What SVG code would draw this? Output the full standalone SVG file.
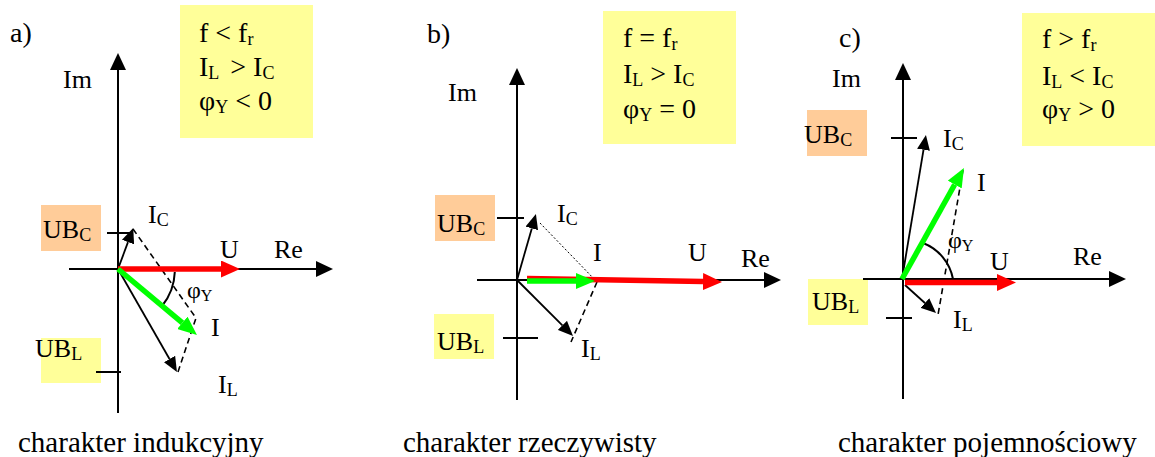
<svg xmlns="http://www.w3.org/2000/svg" width="1155" height="457" viewBox="0 0 1155 457">
<style>
text{font-family:"Liberation Serif","Times New Roman",serif;fill:#000}
.box{font-size:28px}
.lbl{font-size:26px}
.cap{font-size:29px}
.phi{font-size:24px}
.s{font-size:18px}
.sp{font-size:16px}
.ax{stroke:#000;stroke-width:2;fill:none}
.vec{stroke:#000;stroke-width:1.8;fill:none}
.tick{stroke:#000;stroke-width:2}
.dash{stroke:#000;stroke-width:1.6;stroke-dasharray:6 4;fill:none}
.dot{stroke:#000;stroke-width:1;stroke-dasharray:2 2;fill:none}
.red{stroke:#FF0000;stroke-width:5.5;fill:none}
.grn{stroke:#00FF00;stroke-width:5.5;fill:none}
.ybox{fill:#FFFF99}
.obox{fill:#FFCC99}
</style>
<defs>
<marker id="axh" markerWidth="17" markerHeight="16" refX="0" refY="8" orient="auto" markerUnits="userSpaceOnUse"><path d="M0,0 L17,8 L0,16 Z" fill="#000"/></marker>
<marker id="vh" markerWidth="15" markerHeight="13" refX="0" refY="6.5" orient="auto" markerUnits="userSpaceOnUse"><path d="M0,0 L15,6.5 L0,13 Z" fill="#000"/></marker>
<marker id="rh" markerWidth="19" markerHeight="17" refX="0" refY="8.5" orient="auto" markerUnits="userSpaceOnUse"><path d="M0,0 L19,8.5 L0,17 Z" fill="#FF0000"/></marker>
<marker id="gh" markerWidth="19" markerHeight="16" refX="0" refY="8" orient="auto" markerUnits="userSpaceOnUse"><path d="M0,0 L19,8 L0,16 Z" fill="#00FF00"/></marker>
</defs>

<!-- Panel a -->
<g id="panel-a">
  <g id="a-cond">
    <rect class="ybox" x="180" y="5" width="133" height="133"/>
    <text class="box" x="199" y="42">f &lt; f<tspan class="s" dy="3">r</tspan></text>
    <text class="box" x="199" y="76">I<tspan class="s" dy="3">L</tspan><tspan dy="-3" dx="4"> &gt; I</tspan><tspan class="s" dy="3">C</tspan></text>
    <text class="box" x="199" y="110">φ<tspan class="s" dy="3">Y</tspan><tspan dy="-3"> &lt; 0</tspan></text>
  </g>
  <text id="a-label" class="box" x="10" y="42">a)</text>
  <g id="a-ubc"><rect class="obox" x="41" y="205" width="60" height="46"/><text class="lbl" x="43" y="238">UB<tspan class="s" dy="3">C</tspan></text></g>
  <g id="a-ubl"><rect class="ybox" x="41" y="338" width="60" height="45"/><text class="lbl" x="35" y="357">UB<tspan class="s" dy="3">L</tspan></text></g>
  <g id="a-texts">
    <text class="lbl" x="63" y="88">Im</text>
    <text class="lbl" x="274" y="258">Re</text>
    <text class="lbl" x="220" y="258">U</text>
    <text class="lbl" x="148" y="223">I<tspan class="s" dy="3">C</tspan></text>
    <text class="lbl" x="211" y="336">I</text>
    <text class="lbl" x="218" y="393">I<tspan class="s" dy="3">L</tspan></text>
    <text class="phi" x="187" y="298">φ<tspan class="sp" dy="3">Y</tspan></text>
  </g>
  <g id="a-connectors">
    <line class="tick" x1="107" y1="233" x2="132" y2="233"/>
    <line class="tick" x1="96" y1="372" x2="121" y2="372"/>
    <line class="ax" x1="118" y1="413" x2="118" y2="70" marker-end="url(#axh)"/>
    <line class="ax" x1="69" y1="269" x2="316" y2="269" marker-end="url(#axh)"/>
    <polyline class="dash" points="133,229 196,318 177,375"/>
    <path class="ax" d="M174.8,272 A57,57 0 0 1 162,306"/>
    <line class="vec" x1="118" y1="269" x2="128" y2="242.1" marker-end="url(#vh)"/>
    <line class="vec" x1="118" y1="269" x2="169.5" y2="359" marker-end="url(#vh)"/>
    <line class="red" x1="118" y1="269" x2="221" y2="269" marker-end="url(#rh)"/>
    <line class="grn" x1="118" y1="269" x2="182.4" y2="322.8" marker-end="url(#gh)"/>
  </g>
  <text id="a-caption" class="cap" x="18" y="452">charakter indukcyjny</text>
</g>

<!-- Panel b -->
<g id="panel-b">
  <g id="b-cond">
    <rect class="ybox" x="603" y="11" width="133" height="133"/>
    <text class="box" x="623" y="47">f = f<tspan class="s" dy="3">r</tspan></text>
    <text class="box" x="623" y="83">I<tspan class="s" dy="3">L</tspan><tspan dy="-3"> &gt; I</tspan><tspan class="s" dy="3">C</tspan></text>
    <text class="box" x="623" y="118">φ<tspan class="s" dy="3">Y</tspan><tspan dy="-3"> = 0</tspan></text>
  </g>
  <text id="b-label" class="box" x="427" y="43">b)</text>
  <g id="b-ubc"><rect class="obox" x="435" y="195" width="60" height="46"/><text class="lbl" x="437" y="232">UB<tspan class="s" dy="3">C</tspan></text></g>
  <g id="b-ubl"><rect class="ybox" x="434" y="314" width="60" height="45"/><text class="lbl" x="437" y="350">UB<tspan class="s" dy="3">L</tspan></text></g>
  <g id="b-texts">
    <text class="lbl" x="448" y="101">Im</text>
    <text class="lbl" x="741" y="267">Re</text>
    <text class="lbl" x="688" y="261">U</text>
    <text class="lbl" x="593" y="261">I</text>
    <text class="lbl" x="557" y="222">I<tspan class="s" dy="3">C</tspan></text>
    <text class="lbl" x="581" y="357">I<tspan class="s" dy="3">L</tspan></text>
  </g>
  <g id="b-connectors">
    <line class="tick" x1="497" y1="218" x2="524" y2="218"/>
    <line class="tick" x1="503" y1="338" x2="538" y2="338"/>
    <line class="ax" x1="517" y1="400" x2="517" y2="85" marker-end="url(#axh)"/>
    <line class="ax" x1="477" y1="280" x2="764" y2="280" marker-end="url(#axh)"/>
    <line class="dot" x1="540" y1="223" x2="597" y2="282"/>
    <line class="dash" x1="597" y1="282" x2="571" y2="342"/>
    <line class="vec" x1="517" y1="280" x2="531.8" y2="228.4" marker-end="url(#vh)"/>
    <line class="vec" x1="517" y1="280" x2="562.4" y2="325.4" marker-end="url(#vh)"/>
    <line class="red" x1="527" y1="278.5" x2="703" y2="281.6" marker-end="url(#rh)"/>
    <line class="grn" x1="527" y1="281" x2="576" y2="281" marker-end="url(#gh)"/>
  </g>
  <text id="b-caption" class="cap" x="403" y="452">charakter rzeczywisty</text>
</g>

<!-- Panel c -->
<g id="panel-c">
  <g id="c-cond">
    <rect class="ybox" x="1022" y="13" width="133" height="133"/>
    <text class="box" x="1042" y="48">f &gt; f<tspan class="s" dy="3">r</tspan></text>
    <text class="box" x="1042" y="85">I<tspan class="s" dy="3">L</tspan><tspan dy="-3"> &lt; I</tspan><tspan class="s" dy="3">C</tspan></text>
    <text class="box" x="1042" y="118">φ<tspan class="s" dy="3">Y</tspan><tspan dy="-3"> &gt; 0</tspan></text>
  </g>
  <text id="c-label" class="box" x="839" y="47">c)</text>
  <g id="c-ubc"><rect class="obox" x="807" y="110" width="60" height="46"/><text class="lbl" x="804" y="143">UB<tspan class="s" dy="3">C</tspan></text></g>
  <g id="c-ubl"><rect class="ybox" x="808" y="279" width="60" height="46"/><text class="lbl" x="812" y="310">UB<tspan class="s" dy="3">L</tspan></text></g>
  <g id="c-texts">
    <text class="lbl" x="832" y="87">Im</text>
    <text class="lbl" x="1073" y="265">Re</text>
    <text class="lbl" x="990" y="270">U</text>
    <text class="lbl" x="977" y="191">I</text>
    <text class="lbl" x="943" y="147">I<tspan class="s" dy="3">C</tspan></text>
    <text class="lbl" x="953" y="328">I<tspan class="s" dy="3">L</tspan></text>
    <text class="phi" x="948" y="248">φ<tspan class="sp" dy="3">Y</tspan></text>
  </g>
  <g id="c-connectors">
    <line class="tick" x1="891" y1="138" x2="917" y2="138"/>
    <line class="tick" x1="886" y1="318" x2="912" y2="318"/>
    <line class="ax" x1="903" y1="399" x2="903" y2="80" marker-end="url(#axh)"/>
    <line class="ax" x1="863" y1="279" x2="1109" y2="279" marker-end="url(#axh)"/>
    <line class="dash" x1="963" y1="170" x2="938" y2="315"/>
    <path class="ax" d="M923,243 A48,48 0 0 1 953,279"/>
    <line class="vec" x1="902" y1="279" x2="923.5" y2="149.8" stroke-width="1.5" marker-end="url(#vh)"/>
    <line class="vec" x1="905" y1="285" x2="924.9" y2="303" marker-end="url(#vh)"/>
    <line class="red" x1="905" y1="282.5" x2="997" y2="282.5" marker-end="url(#rh)"/>
    <line class="grn" x1="902" y1="279" x2="954.7" y2="184.5" marker-end="url(#gh)"/>
  </g>
  <text id="c-caption" class="cap" x="838" y="452">charakter pojemnościowy</text>
</g>
</svg>
